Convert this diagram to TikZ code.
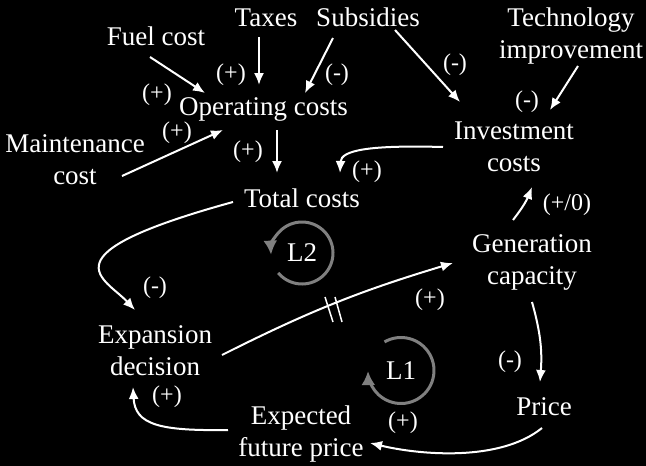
\documentclass[tikz,border=0pt]{standalone}
\usepackage{fontspec}
\setmainfont{Liberation Serif}
\usetikzlibrary{arrows.meta}
\newcommand{\twol}[2]{\begin{tabular}[t]{@{}c@{}}#1\\#2\end{tabular}}
\begin{document}
\begin{tikzpicture}[x=1pt,y=1pt,
  txt/.style={anchor=base,inner sep=0pt,text=white,font=\fontsize{27}{32}\selectfont},
  lbl/.style={inner sep=0pt,text=white,font=\fontsize{24}{28}\selectfont},
  arr/.style={draw=white,line width=2pt,-{Latex[length=12pt,width=10pt]}},
  looparr/.style={draw=gray,line width=3pt,-{Latex[length=14pt,width=14pt]}},
  delaymark/.style={draw=white,line width=1.5pt}]
\useasboundingbox (0,0) rectangle (646,-466);
\fill[black] (0,0) rectangle (646,-466);
% nodes
\node[txt] (fuel) at (156,-45) {Fuel cost};
\node[txt] (taxes) at (266,-26) {Taxes};
\node[txt] (subs) at (368,-26) {Subsidies};
\node[txt] (tech) at (571,-26) {\twol{Technology}{improvement}};
\node[txt] (op) at (263.5,-115) {Operating costs};
\node[txt] (maint) at (75,-152) {\twol{Maintenance}{cost}};
\node[txt] (total) at (302,-207) {Total costs};
\node[txt] (inv) at (514,-139) {\twol{Investment}{costs}};
\node[txt] (gen) at (532,-252) {\twol{Generation}{capacity}};
\node[txt] (price) at (544,-415) {Price};
\node[txt] (exp) at (301,-424) {\twol{Expected}{future price}};
\node[txt] (expd) at (155,-343) {\twol{Expansion}{decision}};
% loop markers
\node[txt,anchor=center] (L2) at (302,-253) {L2};
\node[txt,anchor=center] (L1) at (401,-370.5) {L1};
\draw[looparr] ([shift={(-140:31)}]L2.center) arc[start angle=-140,end angle=183,radius=31];
\draw[looparr] ([shift={(120:33)}]L1.center) arc[start angle=120,end angle=-179,radius=33];
% connectors
\draw[arr] ([shift={(-6,-12)}]fuel.base) -- ([shift={(-58.5,22)}]op.base);
\draw[arr] ([shift={(-7,-11)}]taxes.base) -- ([shift={(-4.5,30)}]op.base);
\draw[arr] ([shift={(-35,-12)}]subs.base) -- ([shift={(41.5,22)}]op.base);
\draw[arr] ([shift={(47,-24)}]maint.base) -- ([shift={(-40.5,-15)}]op.base);
\draw[arr] ([shift={(13.5,-15)}]op.base) -- ([shift={(-25,34)}]total.base);
\draw[arr] ([shift={(27,-4)}]subs.base) -- ([shift={(-54,37)}]inv.base);
\draw[arr] ([shift={(7,-40)}]tech.base) -- ([shift={(36,29)}]inv.base);
\draw[arr] ([shift={(-71,-8)}]inv.base) .. controls (370,-145) and (341,-150) .. ([shift={(38,34)}]total.base);
\draw[arr] ([shift={(-69,5)}]total.base) .. controls (40,-255) and (105,-278) .. ([shift={(-20,33)}]expd.base);
\draw[arr] ([shift={(67,-12)}]expd.base) to[bend left=5] ([shift={(-79,-11)}]gen.base);
\draw[arr] ([shift={(-19,32)}]gen.base) to[bend right=8] ([shift={(18,-48)}]inv.base);
\draw[arr] ([shift={(0,-50)}]gen.base) to[bend left=10] ([shift={(-4,33)}]price.base);
\draw[arr] ([shift={(-2,-13)}]price.base) .. controls (500,-462) and (420,-455) .. ([shift={(69,-19)}]exp.base);
\draw[arr] ([shift={(-73,-6)}]exp.base) .. controls (160,-431) and (135,-425) .. ([shift={(-22,-44)}]expd.base);
% delay mark
\coordinate (dm) at (333.5,-309.5);
\draw[delaymark] ([shift={(-8.5,12.5)}]dm) -- ([shift={(-0.5,-12.5)}]dm);
\draw[delaymark] ([shift={(1.5,12.5)}]dm) -- ([shift={(8.5,-12.5)}]dm);
% polarity labels
\node[lbl] (p1) at (231,-75) {(+)};
\node[lbl] (p2) at (157,-95) {(+)};
\node[lbl] (p3) at (337,-75) {(-)};
\node[lbl] (p4) at (177,-133) {(+)};
\node[lbl] (p5) at (248,-152) {(+)};
\node[lbl] (p6) at (455,-65) {(-)};
\node[lbl] (p7) at (527,-102) {(-)};
\node[lbl] (p8) at (367,-172) {(+)};
\node[lbl] (p9) at (567,-205) {(+/0)};
\node[lbl] (p10) at (430,-300) {(+)};
\node[lbl] (p11) at (510,-362) {(-)};
\node[lbl] (p12) at (403,-423) {(+)};
\node[lbl] (p13) at (167,-397) {(+)};
\node[lbl] (p14) at (155,-288) {(-)};
\end{tikzpicture}
\end{document}
